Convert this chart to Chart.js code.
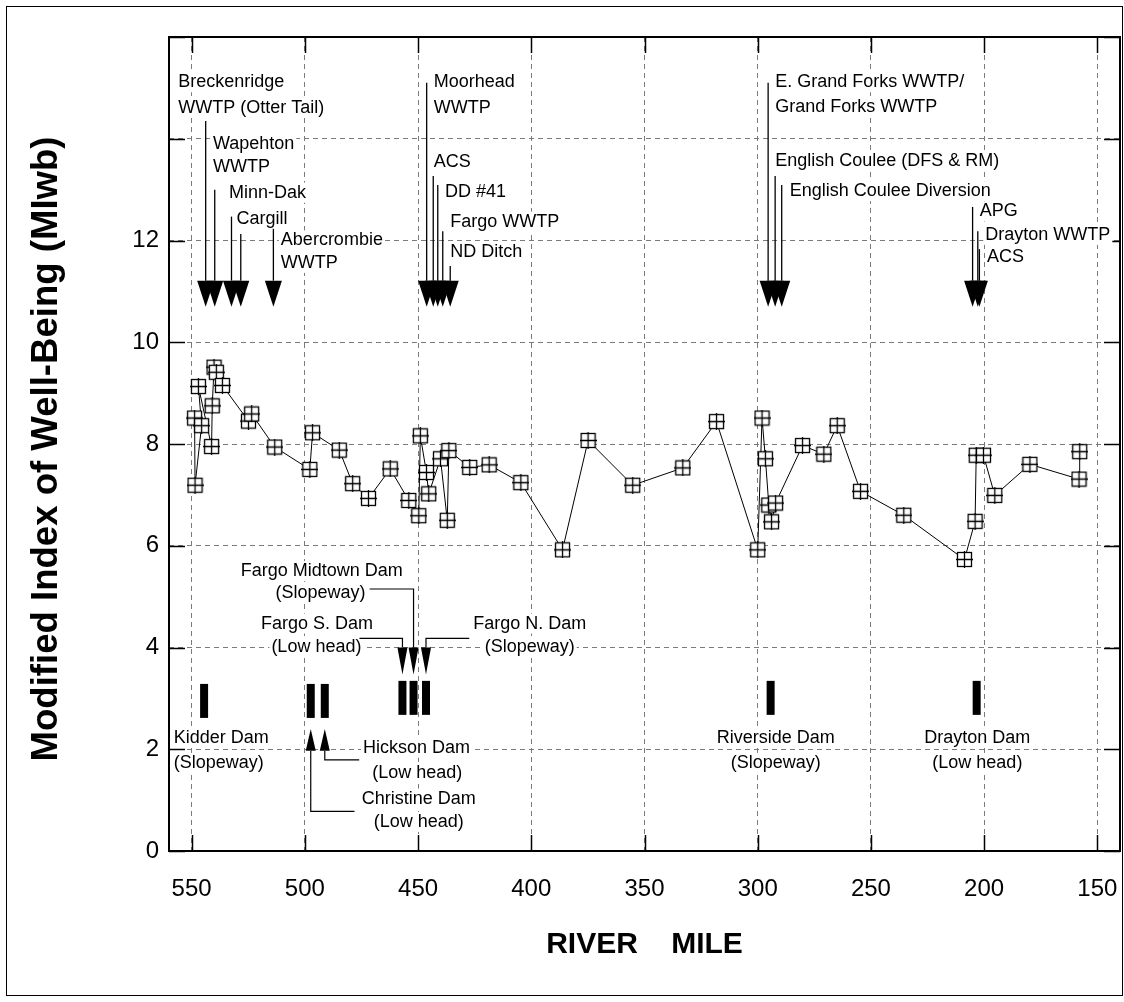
<!DOCTYPE html>
<html>
<head>
<meta charset="utf-8">
<script src="https://cdn.jsdelivr.net/npm/chart.js@4/dist/chart.umd.min.js"></script>
<style>
  body { margin: 0; background: #fff; overflow: hidden; }
  canvas { display: block; }
</style>
</head>
<body>
<canvas id="mwbChart" width="1124" height="1002"></canvas>
<script>
// ---- data ----
var riverMile = [548.7, 548.5, 545.6, 547.0, 541.2, 540.9, 540.1, 539.1, 536.4, 524.9, 523.5, 513.3,
  497.8, 496.6, 484.8, 478.9, 471.9, 462.3, 454.1, 449.7, 449.0, 446.3, 445.3, 440.1, 437.1, 436.4,
  427.2, 418.6, 404.6, 386.2, 374.9, 355.2, 333.1, 318.2, 300.0, 298.1, 296.6, 295.1, 293.9, 292.1,
  280.2, 270.8, 264.9, 254.6, 235.5, 208.7, 204.0, 203.5, 200.3, 195.3, 179.8, 158.1, 157.8];
var mIwb = [8.51, 7.19, 8.36, 9.13, 7.95, 8.75, 9.51, 9.41, 9.15, 8.45, 8.59, 7.94,
  7.50, 8.22, 7.88, 7.22, 6.93, 7.51, 6.89, 6.59, 8.16, 7.44, 7.02, 7.71, 6.50, 7.87,
  7.54, 7.59, 7.24, 5.92, 8.07, 7.19, 7.53, 8.44, 5.92, 8.51, 7.71, 6.80, 6.47, 6.84,
  7.97, 7.80, 8.36, 7.07, 6.60, 5.73, 6.48, 7.78, 7.78, 6.99, 7.60, 7.31, 7.85];

var xTicks = [550, 500, 450, 400, 350, 300, 250, 200, 150];
var yTicks = [0, 2, 4, 6, 8, 10, 12, 14, 16];
var yTickShown = [0, 2, 4, 6, 8, 10, 12];

// dams (black bars)
var damMile = [544.5, 497.4, 491.2, 456.9, 452.0, 446.5, 294.3, 203.3];
var damLevel = [2.95, 2.95, 2.95, 3.01, 3.01, 3.01, 3.01, 3.01];

// point-source inputs (arrows from the top)
var inputMile = [543.8, 539.8, 532.4, 528.3, 513.9, 446.2, 443.3, 441.3, 439.1, 435.8, 295.4, 292.3, 289.4, 205.1, 202.8, 202.1];
var inputTop = [14.35, 13.0, 12.47, 12.13, 12.23, 15.1, 13.27, 13.09, 12.18, 11.5, 15.1, 13.27, 13.09, 12.66, 12.18, 11.83];

var topText = ['Breckenridge', 'WWTP (Otter Tail)', 'Wapehton', 'WWTP', 'Minn-Dak', 'Cargill', 'Abercrombie', 'WWTP',
  'Moorhead', 'WWTP', 'ACS', 'DD #41', 'Fargo WWTP', 'ND Ditch',
  'E. Grand Forks WWTP/', 'Grand Forks WWTP', 'English Coulee (DFS & RM)', 'English Coulee Diversion',
  'APG', 'Drayton WWTP', 'ACS'];
var topTextMile = [555.9, 555.9, 540.6, 540.6, 533.5, 530.2, 510.6, 510.6,
  443.1, 443.1, 443.1, 438.1, 435.8, 435.8,
  292.3, 292.3, 292.3, 285.9,
  201.9, 199.5, 198.7];
var topTextY = [15.11, 14.61, 13.90, 13.45, 12.94, 12.42, 12.0, 11.56,
  15.11, 14.61, 13.54, 12.96, 12.37, 11.78,
  15.11, 14.63, 13.56, 12.97,
  12.57, 12.11, 11.67];

var damText = ['Kidder Dam', '(Slopeway)', 'Fargo Midtown Dam', '(Slopeway)', 'Fargo S. Dam', '(Low head)',
  'Fargo N. Dam', '(Slopeway)', 'Hickson Dam', '(Low head)', 'Christine Dam', '(Low head)',
  'Riverside Dam', '(Slopeway)', 'Drayton Dam', '(Low head)'];
var damTextMile = [557.9, 557.9, 492.5, 493.1, 494.6, 494.9, 400.7, 400.7, 450.7, 450.4, 449.7, 449.7,
  292.0, 292.0, 203.0, 203.0];
var damTextY = [2.23, 1.73, 5.50, 5.07, 4.47, 4.0, 4.47, 4.0, 2.03, 1.53, 1.03, 0.57, 2.23, 1.73, 2.23, 1.73];

// small arrows at the Fargo dams (down) and Christine/Hickson (up)
var downArrowMile = [456.9, 452.0, 446.5];
var upArrowMile = [497.4, 491.2];
var leaders = [
  [[471.4, 5.15], [452.0, 5.15], [452.0, 4.0]],
  [[475.9, 4.18], [456.9, 4.18], [456.9, 4.0]],
  [[427.4, 4.18], [446.5, 4.18], [446.5, 4.0]],
  [[491.2, 1.97], [491.2, 1.79], [476.0, 1.79]],
  [[497.4, 1.97], [497.4, 0.78], [478.1, 0.78]]
];

var FONT = '"Liberation Sans", Arial, sans-serif';

function makeMarker() {
	var c = document.createElement('canvas');
	c.width = 17; c.height = 17;
	var g = c.getContext('2d');
	g.fillStyle = '#fff';
	g.fillRect(1.5, 1.5, 14, 14);
	g.strokeStyle = '#000';
	g.lineWidth = 1.3;
	g.strokeRect(1.5, 1.5, 14, 14);
	g.beginPath();
	g.moveTo(8.5, 0); g.lineTo(8.5, 17);
	g.moveTo(0, 8.5); g.lineTo(17, 8.5);
	g.stroke();
	return c;
}

var pts = [];
for (var i = 0; i < riverMile.length; i++) pts.push({x: riverMile[i], y: mIwb[i]});
var dams = [];
for (var i = 0; i < damMile.length; i++) dams.push({x: damMile[i], y: damLevel[i]});

function labelBox(ctx, text, px, py, align) {
	var w = ctx.measureText(text).width;
	var left = align == 'center' ? px - w / 2 : px;
	ctx.fillStyle = '#fff';
	ctx.fillRect(left - 2, py - 10, w + 4, 20);
	ctx.fillStyle = '#000';
	ctx.textAlign = align;
	ctx.fillText(text, px, py);
}

var annotations = {
	id: 'annotations',
	beforeDraw: function(chart) {
		var ctx = chart.ctx;
		ctx.save();
		ctx.fillStyle = '#fff';
		ctx.fillRect(0, 0, chart.width, chart.height);
		ctx.restore();
	},
	afterDraw: function(chart) {
		var ctx = chart.ctx, xs = chart.scales.x, ys = chart.scales.y, a = chart.chartArea;
		var X = function(v) { return xs.getPixelForValue(v); };
		var Y = function(v) { return ys.getPixelForValue(v); };
		ctx.save();

		// inward tick marks
		ctx.strokeStyle = '#000';
		ctx.lineWidth = 1.5;
		ctx.beginPath();
		xTicks.forEach(function(v) {
			var px = Math.round(X(v)) + 0.5;
			ctx.moveTo(px, a.bottom); ctx.lineTo(px, a.bottom - 16);
			ctx.moveTo(px, a.top); ctx.lineTo(px, a.top + 16);
		});
		yTicks.forEach(function(v) {
			var py = Math.round(Y(v)) + 0.5;
			ctx.moveTo(a.left, py); ctx.lineTo(a.left + 16, py);
			ctx.moveTo(a.right, py); ctx.lineTo(a.right - 16, py);
		});
		ctx.stroke();

		// plot frame
		ctx.lineWidth = 2;
		ctx.strokeRect(a.left, a.top, a.right - a.left, a.bottom - a.top);

		// text labels
		ctx.font = '18px ' + FONT;
		ctx.textBaseline = 'middle';
		for (var i = 0; i < topText.length; i++)
			labelBox(ctx, topText[i], X(topTextMile[i]), Y(topTextY[i]), 'left');
		for (var i = 0; i < damText.length; i++)
			labelBox(ctx, damText[i], X(damTextMile[i]), Y(damTextY[i]), i < 2 ? 'left' : 'center');

		// input arrows
		ctx.strokeStyle = '#000';
		ctx.fillStyle = '#000';
		ctx.lineWidth = 1.3;
		for (var i = 0; i < inputMile.length; i++) {
			var px = X(inputMile[i]);
			ctx.beginPath();
			ctx.moveTo(px, Y(inputTop[i]));
			ctx.lineTo(px, Y(11.21));
			ctx.stroke();
			ctx.beginPath();
			ctx.moveTo(px - 8.5, Y(11.21));
			ctx.lineTo(px + 8.5, Y(11.21));
			ctx.lineTo(px, Y(10.70));
			ctx.closePath();
			ctx.fill();
		}

		// dam leaders + arrowheads
		ctx.lineWidth = 1.2;
		leaders.forEach(function(l) {
			ctx.beginPath();
			ctx.moveTo(X(l[0][0]), Y(l[0][1]));
			for (var k = 1; k < l.length; k++) ctx.lineTo(X(l[k][0]), Y(l[k][1]));
			ctx.stroke();
		});
		downArrowMile.forEach(function(m) {
			var px = X(m);
			ctx.beginPath();
			ctx.moveTo(px - 5, Y(4.0)); ctx.lineTo(px + 5, Y(4.0)); ctx.lineTo(px, Y(3.47));
			ctx.closePath(); ctx.fill();
		});
		upArrowMile.forEach(function(m) {
			var px = X(m);
			ctx.beginPath();
			ctx.moveTo(px - 5, Y(1.97)); ctx.lineTo(px + 5, Y(1.97)); ctx.lineTo(px, Y(2.40));
			ctx.closePath(); ctx.fill();
		});

		// axis titles
		ctx.fillStyle = '#000';
		ctx.textAlign = 'center';
		ctx.textBaseline = 'middle';
		ctx.font = 'bold 30px ' + FONT;
		ctx.fillText('RIVER    MILE', (a.left + a.right) / 2, 945);
		ctx.save();
		ctx.translate(47, 449);
		ctx.rotate(-Math.PI / 2);
		ctx.font = 'bold 36px ' + FONT;
		var tw = ctx.measureText('Modified Index of Well-Being (MIwb)').width;
		ctx.scale(625 / tw, 1);
		ctx.fillText('Modified Index of Well-Being (MIwb)', 0, 0);
		ctx.restore();

		// outer border
		ctx.lineWidth = 1;
		ctx.strokeStyle = '#000';
		ctx.strokeRect(6.5, 6.5, 1116, 989);
		ctx.restore();
	}
};

var ctx = document.getElementById('mwbChart').getContext('2d');
var mwbChart = new Chart(ctx, {
	type: 'line',
	data: {
		datasets: [{
			data: pts,
			borderColor: '#000',
			borderWidth: 1,
			tension: 0,
			fill: false,
			pointStyle: makeMarker(),
			pointRadius: 8,
			pointHoverRadius: 8
		}, {
			type: 'scatter',
			data: dams,
			showLine: false,
			pointStyle: 'line',
			pointRotation: 90,
			pointRadius: 17,
			pointHoverRadius: 17,
			pointBorderWidth: 8,
			pointHoverBorderWidth: 8,
			pointBorderColor: '#000',
			borderColor: '#000'
		}]
	},
	options: {
		responsive: false,
		animation: false,
		devicePixelRatio: 1,
		events: [],
		layout: { autoPadding: false, padding: { left: 0, top: 37, right: 4, bottom: 0 } },
		plugins: { legend: { display: false }, tooltip: { enabled: false } },
		scales: {
			x: {
				type: 'linear', min: 140, max: 560, reverse: true,
				afterBuildTicks: function(s) { s.ticks = xTicks.map(function(v) { return {value: v}; }); },
				afterFit: function(s) { s.height = 151; },
				grid: { color: '#7a7a7a', lineWidth: 1, drawTicks: false },
				border: { display: false, dash: [5, 4] },
				ticks: { padding: 2, color: '#000', font: { family: FONT, size: 24, lineHeight: 3.03 }, maxRotation: 0 }
			},
			y: {
				type: 'linear', min: 0, max: 16,
				afterBuildTicks: function(s) { s.ticks = yTicks.map(function(v) { return {value: v}; }); },
				afterFit: function(s) { s.width = 169; },
				grid: { color: '#7a7a7a', lineWidth: 1, drawTicks: false },
				border: { display: false, dash: [5, 4] },
				ticks: {
					padding: 10, color: '#000', font: { family: FONT, size: 24 },
					callback: function(v) { return yTickShown.indexOf(v) >= 0 ? String(v) : ''; }
				}
			}
		}
	},
	plugins: [annotations]
});
</script>
</body>
</html>
